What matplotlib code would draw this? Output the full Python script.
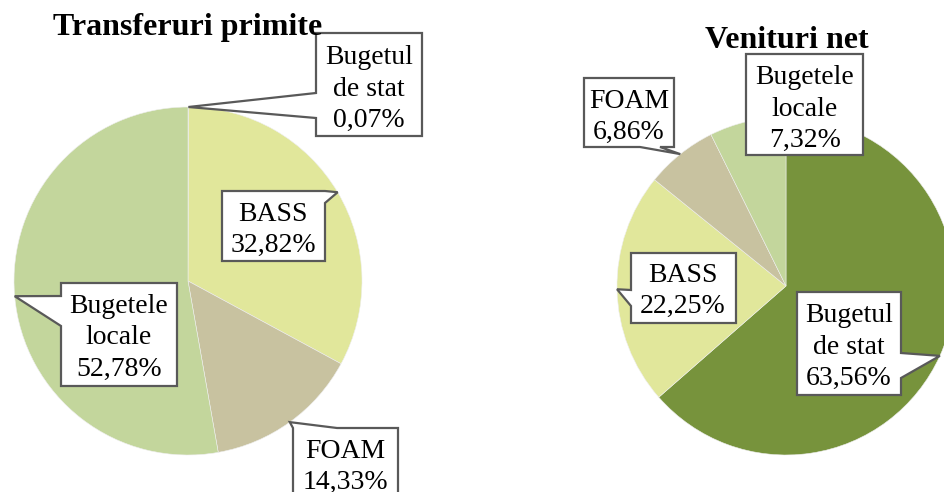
import numpy as np
import matplotlib.pyplot as plt
from matplotlib.patches import Polygon

# Data
categories = ["Bugetul\nde stat", "BASS", "FOAM", "Bugetele\nlocale"]
transfer_values = [0.07, 32.82, 14.33, 52.78]
venit_values = [63.56, 22.25, 6.86, 7.32]
colors = ["#77933c", "#e1e79b", "#c8c2a0", "#c3d69c"]

W, H = 945, 492
font = "Liberation Serif"

# Layout in pixels measured from the top left corner
left_center, left_r = (188, 281), 174
right_center, right_r = (786, 286), 169
left_boxes = [(316, 33, 422, 136), (222, 191, 325, 261), (293, 428, 398, 510), (61, 283, 177, 386)]
left_sides = ["left", "right", "top", "left"]
left_bases = [(93, 118), (191, 203), (293, 337), (296, 326)]
left_text = [(369, 89), (273, 230), (345, 467), (119, 338)]
right_boxes = [(797, 292, 901, 395), (631, 253, 736, 323), (584, 78, 674, 147), (746, 54, 863, 155)]
right_sides = ["right", "left", "bottom", None]
right_bases = [(353, 378), (290, 306), (640, 660), None]
right_text = [(849, 347), (683, 291), (629, 117), (805, 109)]


def fmt(v):
    return f"{v:.2f}".replace(".", ",") + "%"


def callout(ax, wedge, box, side, base, text_xy, label):
    x0, y0, x1, y1 = box
    mid = np.deg2rad((wedge.theta1 + wedge.theta2) / 2)
    cx, cy = wedge.center
    tip = (cx + wedge.r * np.cos(mid), H - (cy + wedge.r * np.sin(mid)))
    pts = [(x0, y0)]
    if side == "top":
        pts += [(base[0], y0), tip, (base[1], y0)]
    pts += [(x1, y0)]
    if side == "right":
        pts += [(x1, base[0]), tip, (x1, base[1])]
    pts += [(x1, y1)]
    if side == "bottom":
        pts += [(base[1], y1), tip, (base[0], y1)]
    pts += [(x0, y1)]
    if side == "left":
        pts += [(x0, base[1]), tip, (x0, base[0])]
    pts = [(x, H - y) for x, y in pts]
    ax.add_patch(Polygon(pts, closed=True, facecolor="white", edgecolor="#595959",
                         linewidth=1.6, joinstyle="miter", zorder=4))
    ax.text(text_xy[0], H - text_xy[1], label, ha="center", va="center",
            fontsize=20, family=font, linespacing=1.33, zorder=5)


fig = plt.figure(figsize=(W / 100, H / 100), dpi=100)
ax = fig.add_axes([0, 0, 1, 1])

for values, center, r, boxes, sides, bases, texts in [
    (transfer_values, left_center, left_r, left_boxes, left_sides, left_bases, left_text),
    (venit_values, right_center, right_r, right_boxes, right_sides, right_bases, right_text),
]:
    wedges, _ = ax.pie(values, colors=colors, startangle=90, counterclock=False,
                       center=(center[0], H - center[1]), radius=r,
                       wedgeprops=dict(linewidth=0.4, edgecolor="#eeeeee"), frame=True)
    for i, w in enumerate(wedges):
        label = categories[i] + "\n" + fmt(values[i])
        callout(ax, w, boxes[i], sides[i], bases[i], texts[i], label)

ax.set_xlim(0, W)
ax.set_ylim(0, H)
ax.set_aspect("auto")
ax.axis("off")

ax.text(188, H - 27, "Transferuri primite", ha="center", va="center",
        fontsize=23, fontweight="bold", family=font, zorder=6)
ax.text(787, H - 40, "Venituri net", ha="center", va="center",
        fontsize=23, fontweight="bold", family=font, zorder=6)

fig.savefig("out.png", dpi=100)
